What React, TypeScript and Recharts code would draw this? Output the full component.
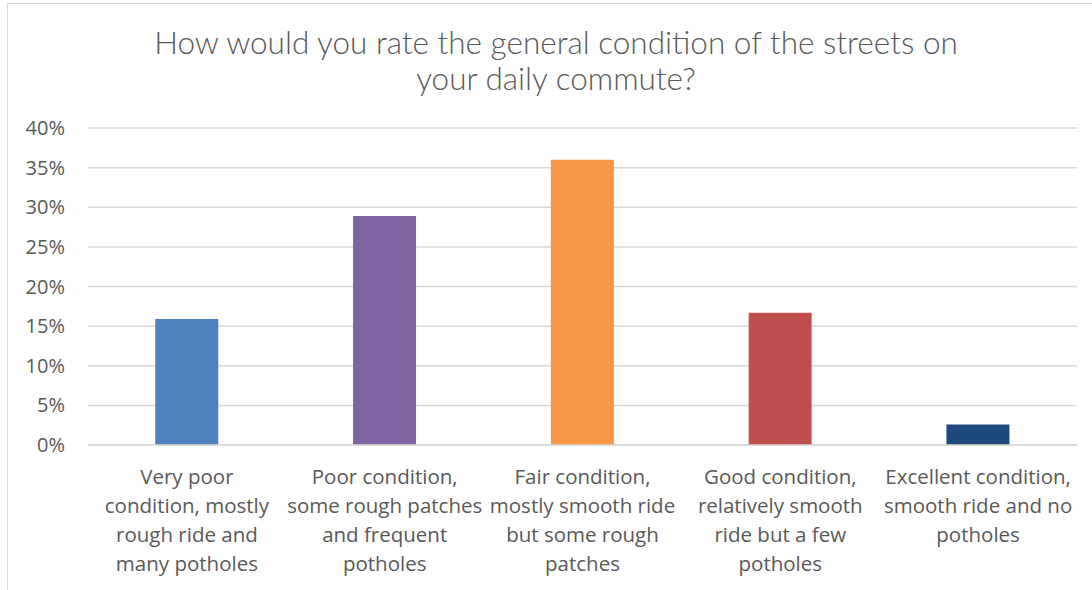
import React from "react";
import { BarChart, Bar, XAxis, YAxis, CartesianGrid, Cell } from "recharts";

const categories = [
  "Very poor\ncondition, mostly\nrough ride and\nmany potholes",
  "Poor condition,\nsome rough patches\nand frequent\npotholes",
  "Fair condition,\nmostly smooth ride\nbut some rough\npatches",
  "Good condition,\nrelatively smooth\nride but a few\npotholes",
  "Excellent condition,\nsmooth ride and no\npotholes",
];
const shares = [15.9, 28.9, 36.0, 16.7, 2.6];
const barColors = ["#4F81BD", "#8064A2", "#F79646", "#C0504D", "#1F497D"];
const yTicks = [0, 5, 10, 15, 20, 25, 30, 35, 40];

const data = categories.map((c, i) => ({ category: c, share: shares[i] }));

const FONT = "'Open Sans', Lato, sans-serif";
const TEXT = "#595959";

function CategoryTick(props: any) {
  const { x, y, payload } = props;
  const lines = String(payload.value).split("\n");
  return (
    <text x={x} y={y} textAnchor="middle" fill={TEXT} fontSize={20.5} fontFamily={FONT}>
      {lines.map((l, i) => (
        <tspan key={i} x={x} dy={i === 0 ? 39 : 29}>
          {l}
        </tspan>
      ))}
    </text>
  );
}

export default function App() {
  return (
    <div style={{ position: "absolute", left: 0, top: 0, width: 1092, height: 590, background: "#fff", overflow: "hidden" }}>
      <div
        style={{
          position: "absolute", left: 7, top: 3, width: 1200, height: 700,
          borderLeft: "1px solid #d9d9d9", borderTop: "1px solid #d9d9d9",
        }}
      />
      <div
        style={{
          position: "absolute", left: 0, top: 24, width: 1112, textAlign: "center",
          fontFamily: "Lato, sans-serif", fontWeight: 300, fontSize: 31.5, lineHeight: "36px", color: TEXT,
        }}
      >
        How would you rate the general condition of the streets on
        <br />
        your daily commute?
      </div>
      <BarChart
        width={1092}
        height={590}
        data={data}
        margin={{ top: 128, right: 15, bottom: 0, left: 0 }}
        barCategoryGap="34%"
        style={{ position: "absolute", left: 0, top: 0 }}
      >
        <CartesianGrid vertical={false} stroke="#d9d9d9" strokeWidth={1.5} />
        <XAxis
          dataKey="category"
          height={145}
          interval={0}
          tickLine={false}
          tickSize={0}
          tickMargin={0}
          axisLine={{ stroke: "#d9d9d9", strokeWidth: 1.5 }}
          tick={<CategoryTick />}
        />
        <YAxis
          width={88}
          domain={[0, 40]}
          ticks={yTicks}
          interval={0}
          axisLine={false}
          tickLine={false}
          tickSize={0}
          tickMargin={23}
          tickFormatter={(v) => `${v}%`}
          tick={{ fill: TEXT, fontSize: 20, fontFamily: FONT }}
        />
        <Bar dataKey="share" isAnimationActive={false}>
          {data.map((d, i) => (
            <Cell key={d.category} fill={barColors[i]} />
          ))}
        </Bar>
      </BarChart>
    </div>
  );
}
